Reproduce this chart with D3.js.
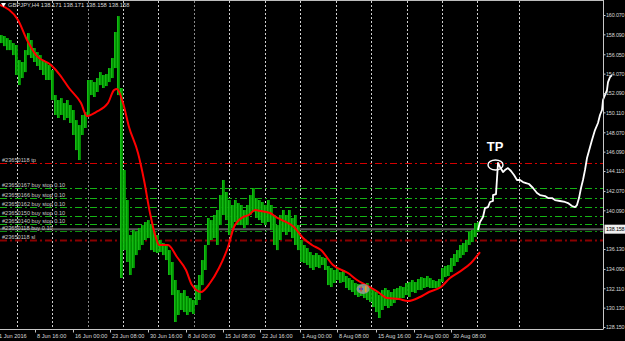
<!DOCTYPE html>
<html>
<head>
<meta charset="utf-8">
<script src="https://cdn.jsdelivr.net/npm/d3@7"></script>
<style>
  html, body { margin: 0; padding: 0; background: #000; }
  svg { display: block; }
  text { font-family: "Liberation Sans", Arial, sans-serif; }
</style>
</head>
<body>
<svg id="chart" width="625" height="341" viewBox="0 0 625 341"></svg>
<script>
// GBPJPY H4 bars (high / low), one entry per slot
const barHigh = [158.02,157.92,157.71,157.51,157.20,157.00,155.46,155.26,156.48,158.22,
  157.51,156.69,156.28,155.97,155.46,155.26,154.95,154.44,151.88,151.37,
  151.57,151.06,151.37,150.86,150.35,149.32,148.81,149.84,150.14,153.42,
  153.42,153.21,153.62,154.23,153.93,154.03,154.64,155.67,158.33,159.96,
  152.60,144.21,141.14,137.56,138.07,137.87,138.28,138.58,138.89,139.09,
  138.58,137.87,137.56,137.05,136.74,136.54,136.02,134.80,132.96,131.93,
  131.63,131.93,131.32,131.11,130.91,132.44,133.47,135.00,136.54,139.30,
  139.09,139.61,140.12,141.65,143.19,141.96,141.14,140.63,141.14,140.83,
  140.63,140.12,140.63,141.65,142.37,141.34,141.14,140.94,140.63,141.14,
  140.63,139.61,138.58,139.61,140.12,139.61,140.12,139.30,139.61,138.58,
  137.05,136.54,136.23,135.82,135.51,135.72,135.51,135.31,135.21,134.39,
  134.18,133.98,134.18,133.77,133.98,133.37,133.16,132.96,132.65,132.55,
  132.44,132.34,132.65,132.14,131.93,131.73,131.42,131.93,132.14,131.93,
  131.73,132.04,132.14,132.34,132.24,132.65,132.75,132.96,132.75,133.06,
  133.26,133.16,133.37,133.16,132.96,132.85,133.06,134.18,134.39,134.49,
  135.21,135.62,136.02,136.54,136.74,137.05,137.87,138.07,138.79,138.89];
const barLow = [157.20,156.89,156.48,156.48,155.97,153.93,152.90,153.62,154.23,155.97,
  155.67,155.26,154.85,154.44,153.93,153.42,153.42,151.37,149.84,149.53,
  149.84,149.32,149.53,149.02,147.79,146.25,145.23,147.79,148.51,149.84,
  151.88,151.68,152.19,152.90,152.60,152.80,153.21,153.62,154.64,151.88,
  133.16,136.02,134.80,133.47,134.18,135.51,136.02,136.54,137.05,137.25,
  136.02,135.82,135.72,135.82,135.51,135.00,133.47,131.42,128.66,129.38,
  129.89,129.68,129.38,129.68,129.48,130.40,130.91,132.44,133.98,136.54,
  137.05,137.25,136.54,138.58,139.61,139.09,137.56,138.28,138.89,138.58,
  138.58,138.28,138.58,139.61,139.91,139.30,139.09,138.79,138.58,138.89,
  138.07,136.54,136.02,137.05,137.87,137.56,137.87,137.25,136.54,136.02,
  134.80,134.70,134.49,134.18,133.98,134.29,134.18,134.49,133.98,132.44,
  132.24,132.65,132.96,132.65,132.75,132.14,131.93,131.73,131.42,131.22,
  131.32,131.11,130.91,130.71,130.19,129.68,129.07,129.89,130.30,130.09,
  130.30,130.60,130.91,131.11,131.11,131.42,131.22,131.73,131.63,131.93,
  131.93,132.14,132.24,132.14,132.14,132.14,132.24,132.75,133.26,133.37,
  133.77,134.39,134.80,135.21,135.51,135.82,136.54,136.84,137.35,137.87];

// moving average (red)
const maBar = [0,6,9,12,17,20,23,27,29,32,36,38,39,41,43,46,48,50,52,53,56,59,62,64,67,70,73,76,78,81,
  83,85,87,90,92,94,98,101,104,107,111,116,119,122,126,129,133,136,140,143,147,150,153,157,160];
const maVal = [161.09,159.55,157.51,155.97,154.95,153.93,152.60,151.06,149.73,150.14,151.06,152.39,152.50,151.06,148.61,145.95,143.19,139.81,137.25,136.54,
  136.54,135.31,133.98,132.44,131.73,132.65,134.18,136.33,138.38,139.40,139.61,140.12,140.01,139.81,139.40,139.09,138.38,137.25,136.54,136.02,
  134.49,133.67,132.96,132.44,131.73,131.11,131.01,130.81,131.22,131.73,132.24,133.16,133.77,134.70,135.82];

// hand drawn projection (white)
const projBar = [159.33,160,161,161.67,162.67,163.33,164.33,164.33,165.33,166,166.67,167.67,168.33,169.33,170.33,171.33,172.33,173.33,174.33,175.33,
  176.33,177.67,179,180,181.67,182.67,184,185,186.67,188.33,189.33,190.67,191.67,192.33,193,193.67,194.33,195,195.67,197.33,
  198.33,199.33,200,200.67,201,202.33,202.67,203.33,204];
const projVal = [138.07,138.89,139.40,140.32,140.42,140.94,141.04,141.65,141.75,144.93,144.52,144.00,144.21,144.41,144.11,143.70,143.19,143.19,142.98,142.88,
  142.78,142.37,141.86,141.65,141.55,141.34,141.34,141.14,141.04,140.94,140.83,140.53,140.42,140.63,141.34,142.37,143.19,144.21,145.44,147.28,
  148.30,149.02,149.84,150.35,151.37,152.39,153.21,153.72,153.93];

// orders
const orderLabels = ["#23650118 tp","#23650167 buy stop 0.10","#23650166 buy stop 0.10","#23650162 buy stop 0.10",
  "#23650150 buy stop 0.10","#23650140 buy stop 0.10","#23650118 buy 0.10","#23650118 sl"];
const orderPrices = [144.93,142.37,141.34,140.42,139.50,138.68,137.97,137.05];
const orderKinds = ["tp","stop","stop","stop","stop","stop","buy","sl"];
const bidPrice = 138.158;

// axes
const priceTicks = [160.070,158.090,156.050,154.070,152.090,150.110,148.070,146.090,144.110,142.070,140.090,136.130,134.090,132.110,130.130,128.150];
const dateLabels = ["1 Jun 2016","8 Jun 16:00","16 Jun 00:00","23 Jun 08:00","30 Jun 16:00","8 Jul 00:00","15 Jul 08:00",
  "22 Jul 16:00","1 Aug 00:00","8 Aug 08:00","15 Aug 16:00","23 Aug 00:00","30 Aug 08:00"];
const dateSlots = [-1,11.67,24.33,36.67,49.33,62,74.33,86.67,100,112.33,125.33,138,150.33];
const gridSlots = [5.67,17.33,29.33,41,52.67,64.67,76.33,88.33,100,112,123.67,135.67,147.33,159,173];
const titleText = "GBPJPY,H4  138.171 138.171 138.158 138.158";

const svg = d3.select("#chart");
const W = 603, H = 329;

const x = d3.scaleLinear().domain([0, 201]).range([0, W]);
const y = d3.scaleLinear().domain([128.15, 160.07]).range([327, 15]);

svg.append("rect").attr("width", 625).attr("height", 341).attr("fill", "#000");

svg.append("clipPath").attr("id", "plotclip")
  .append("rect").attr("x", 0).attr("y", 1).attr("width", W).attr("height", H - 1);

const plot = svg.append("g").attr("clip-path", "url(#plotclip)");

// vertical grid
plot.selectAll("line.grid").data(gridSlots).enter().append("line")
  .attr("class", "grid")
  .attr("x1", d => Math.round(x(d)) + 0.5).attr("x2", d => Math.round(x(d)) + 0.5)
  .attr("y1", 1).attr("y2", H)
  .attr("stroke", (d, i) => (i === 2 || i === 5) ? "#8a8a8a" : "#d0d0d0")
  .attr("stroke-width", 1)
  .attr("stroke-dasharray", "2,2");

// order lines
const orderColor = { tp: "#d40000", stop: "#14b414", buy: "#0e8e0e", sl: "#8a0000" };
plot.selectAll("line.order").data(orderPrices).enter().append("line")
  .attr("class", "order")
  .attr("x1", 0).attr("x2", W)
  .attr("y1", d => Math.round(y(d)) + 0.5).attr("y2", d => Math.round(y(d)) + 0.5)
  .attr("stroke", (d, i) => orderColor[orderKinds[i]])
  .attr("stroke-width", (d, i) => orderKinds[i] === "sl" ? 2 : 1)
  .attr("stroke-dasharray", "7,3,2,3");

// bid line
plot.append("line")
  .attr("x1", 0).attr("x2", W)
  .attr("y1", y(bidPrice)).attr("y2", y(bidPrice))
  .attr("stroke", "#5a5a5a").attr("stroke-width", 2);

// bars
plot.selectAll("line.bar").data(barHigh).enter().append("line")
  .attr("class", "bar")
  .attr("x1", (d, i) => x(i) + 1.5).attr("x2", (d, i) => x(i) + 1.5)
  .attr("y1", d => y(d)).attr("y2", (d, i) => y(barLow[i]))
  .attr("stroke", "#009800").attr("stroke-width", 2.8);
plot.selectAll("line.barhi").data(barHigh).enter().append("line")
  .attr("class", "barhi")
  .attr("x1", (d, i) => x(i) + 0.7).attr("x2", (d, i) => x(i) + 0.7)
  .attr("y1", d => y(d)).attr("y2", (d, i) => y(barLow[i]))
  .attr("stroke", "#1ccc1c").attr("stroke-width", 0.9);

// moving average
const maLine = d3.line().x(d => x(d[0])).y(d => y(d[1])).curve(d3.curveMonotoneX);
plot.append("path")
  .attr("d", maLine(maBar.map((b, i) => [b, maVal[i]])))
  .attr("fill", "none").attr("stroke", "#ff0000").attr("stroke-width", 2);

// order labels
plot.selectAll("text.olab").data(orderLabels).enter().append("text")
  .attr("class", "olab")
  .attr("x", 2).attr("y", (d, i) => Math.round(y(orderPrices[i])) - 1.5)
  .attr("fill", "#c8c8c8").attr("font-size", 5.6)
  .text(d => d);

// trade marker
const mk = plot.append("g").attr("transform", `translate(${x(121)},${y(132.04)})`);
mk.append("ellipse").attr("rx", 6.5).attr("ry", 5).attr("fill", "#9a9a9a").attr("opacity", 0.85);
mk.append("rect").attr("x", -4).attr("y", -1).attr("width", 4).attr("height", 2).attr("fill", "#3050e0");
mk.append("rect").attr("x", -2.5).attr("y", -2.5).attr("width", 1.2).attr("height", 5).attr("fill", "#e03030");
mk.append("rect").attr("x", 2).attr("y", -3).attr("width", 1.5).attr("height", 6).attr("fill", "#f0a020");

// projection line (drawn over the axis too)
const projLine = d3.line().x(d => x(d[0])).y(d => y(d[1]));
svg.append("path")
  .attr("d", projLine(projBar.map((b, i) => [b, projVal[i]])))
  .attr("fill", "none").attr("stroke", "#ffffff").attr("stroke-width", 1.8)
  .attr("stroke-linejoin", "round");

// TP mark
const tpIdx = projVal.indexOf(d3.max(projVal.slice(0, 20)));
svg.append("ellipse")
  .attr("cx", x(projBar[tpIdx]) - 2.5).attr("cy", y(projVal[tpIdx]) + 2)
  .attr("rx", 7.5).attr("ry", 5)
  .attr("fill", "none").attr("stroke", "#fff").attr("stroke-width", 1.4);
svg.append("text")
  .attr("x", x(projBar[tpIdx]) - 3).attr("y", y(projVal[tpIdx]) - 11.5)
  .attr("text-anchor", "middle").attr("fill", "#fff")
  .attr("font-size", 13).attr("font-weight", "bold")
  .text("TP");

// frame
svg.append("line").attr("x1", 0).attr("x2", W + 0.5).attr("y1", 0.5).attr("y2", 0.5).attr("stroke", "#bdbdbd");

// price axis
const yAxis = svg.append("g").attr("transform", `translate(${W + 0.5},0)`)
  .call(d3.axisRight(y).tickValues(priceTicks).tickFormat(d3.format(".3f")).tickSize(2).tickPadding(0.5));
yAxis.select(".domain").attr("stroke", "#c8c8c8").attr("d", `M0,0V${H + 0.5}`);
yAxis.selectAll(".tick line").attr("stroke", "#c8c8c8");
yAxis.selectAll(".tick text").attr("fill", "#d8d8d8").attr("font-size", 5.4)
  .attr("letter-spacing", -0.15)
  .attr("font-family", "Liberation Sans, Arial, sans-serif");

// bid label
const bidG = svg.append("g").attr("transform", `translate(${W + 0.5},${y(bidPrice)})`);
bidG.append("rect").attr("x", 1).attr("y", -4.5).attr("width", 21).attr("height", 9).attr("fill", "#f0f0f0");
bidG.append("text").attr("x", 2.5).attr("y", 2).attr("fill", "#000").attr("font-size", 5.4)
  .attr("letter-spacing", -0.15).text(d3.format(".3f")(bidPrice));

// time axis
const xAxis = svg.append("g").attr("transform", `translate(0,${H + 0.5})`)
  .call(d3.axisBottom(x).tickValues(dateSlots).tickFormat((d, i) => dateLabels[i]).tickSize(3).tickPadding(2));
xAxis.select(".domain").attr("stroke", "#c8c8c8").attr("d", `M0,0H${W}`);
xAxis.selectAll(".tick line").attr("stroke", "#c8c8c8");
xAxis.selectAll(".tick text").attr("fill", "#d8d8d8").attr("font-size", 5.6)
  .attr("text-anchor", "start").attr("dx", 1.5)
  .attr("font-family", "Liberation Sans, Arial, sans-serif");

// title
svg.append("path").attr("d", "M1,3L6,3L3.5,7Z").attr("fill", "#fff");
svg.append("text").attr("x", 8).attr("y", 7).attr("fill", "#d8d8d8").attr("font-size", 5.8).text(titleText);
</script>
</body>
</html>
